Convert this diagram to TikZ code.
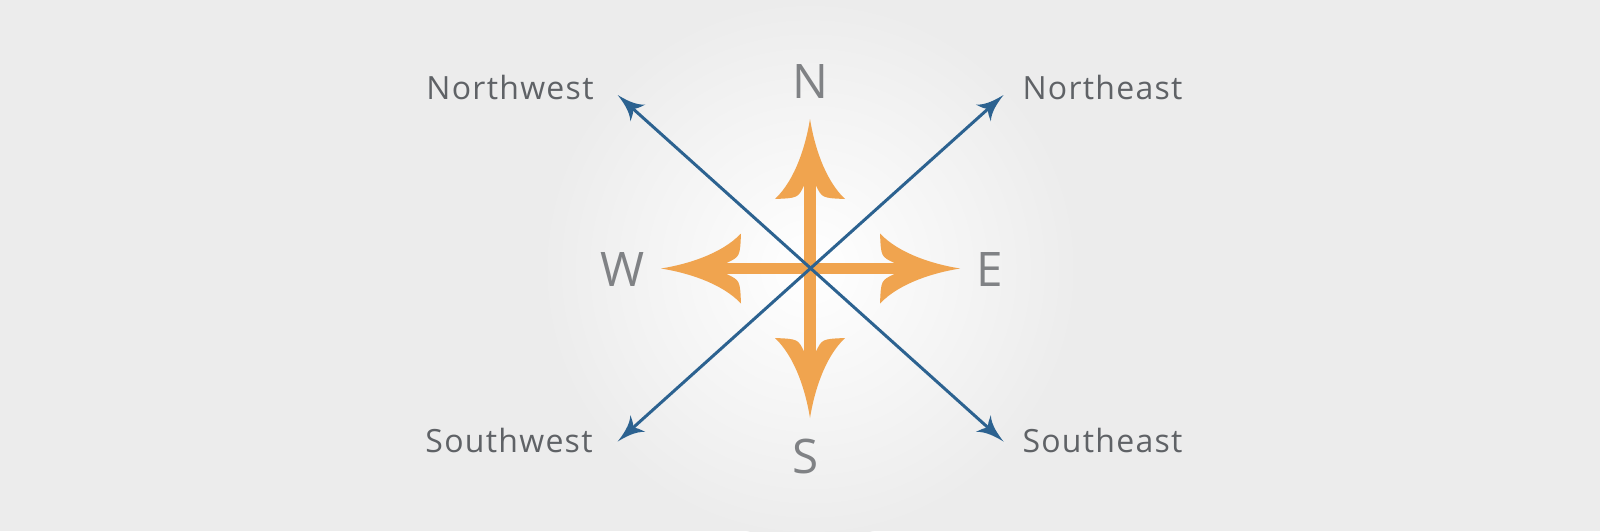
\documentclass[tikz,border=0pt]{standalone}
\usepackage{fontspec}
\setmainfont{Open Sans}
\newfontfamily\cornerfont[LetterSpace=4]{Open Sans}
\definecolor{bgc}{HTML}{ECECEC}
\definecolor{orng}{HTML}{F0A44F}
\definecolor{blu}{HTML}{2C6290}
\definecolor{dirtxt}{HTML}{808285}
\definecolor{cortxt}{HTML}{5F6266}
\begin{document}
\begin{tikzpicture}[x=0.5pt,y=-0.5pt,
  ohead/.pic={\fill[orng] (0,0) .. controls (-25,4) and (-60,14) .. (-80,35)
     .. controls (-79,12) .. (-66,5.7) -- (-66,-5.7)
     .. controls (-79,-12) .. (-80,-35)
     .. controls (-60,-14) and (-25,-4) .. (0,0) -- cycle;},
  bhead/.pic={\fill[blu] (0,0) .. controls (-8,1.5) and (-20,4) .. (-27,11.2)
     .. controls (-24,4) .. (-21,0)
     .. controls (-24,-4) .. (-27,-11.2)
     .. controls (-20,-4) and (-8,-1.5) .. (0,0) -- cycle;},
  dirlabel/.style={font=\fontsize{23.8pt}{28pt}\selectfont, text=dirtxt, anchor=base, inner sep=0pt},
  cornerlabel/.style={font=\cornerfont\fontsize{16pt}{19pt}\selectfont, text=cortxt, anchor=base, inner sep=0pt},
  bline/.style={draw=blu, line width=1.5pt, shorten <=9pt, shorten >=9pt},
  shaft/.style={draw=orng, line width=5.65pt}
]
\useasboundingbox (0,0) rectangle (1600,531);
\fill[bgc] (0,0) rectangle (1600,531);
\begin{scope}
  \clip (0,0) rectangle (1600,531);
  \shade[inner color=white, outer color=bgc] (810,268.5) circle (270);
\end{scope}

% coordinates
\coordinate (c) at (810,268.5);
\coordinate (ntip) at (810,119);
\coordinate (stip) at (810,418);
\coordinate (wtip) at (661,268.5);
\coordinate (etip) at (960,268.5);
\coordinate (nshaft) at (810,181);
\coordinate (sshaft) at (810,356);
\coordinate (wshaft) at (723,268.5);
\coordinate (eshaft) at (898,268.5);
\coordinate (nw) at (617.7,95);
\coordinate (ne) at (1003.5,95);
\coordinate (sw) at (617.7,441.5);
\coordinate (se) at (1003.5,441.5);

% orange cross
\draw[shaft] (sshaft) -- (nshaft);
\draw[shaft] (wshaft) -- (eshaft);
\pic[rotate=90] at (ntip) {ohead};
\pic[rotate=270] at (stip) {ohead};
\pic[rotate=180] at (wtip) {ohead};
\pic at (etip) {ohead};

% blue diagonals
\draw[bline] (nw) -- (se);
\draw[bline] (ne) -- (sw);
\pic[rotate=138.3] at (nw) {bhead};
\pic[rotate=41.7] at (ne) {bhead};
\pic[rotate=221.7] at (sw) {bhead};
\pic[rotate=318.3] at (se) {bhead};

% labels
\node[dirlabel] (N) at (810.5,98.3) {N};
\node[dirlabel] (S) at (806,473) {S};
\node[dirlabel] (W) at (622.5,286.7) {W};
\node[dirlabel] (E) at (990,286.7) {E};
\node[cornerlabel] (NW) at (510,99.3) {Northwest};
\node[cornerlabel] (NE) at (1102.5,99.3) {Northeast};
\node[cornerlabel] (SW) at (509,452.3) {Southwest};
\node[cornerlabel] (SE) at (1102.5,452.3) {Southeast};
\end{tikzpicture}
\end{document}
